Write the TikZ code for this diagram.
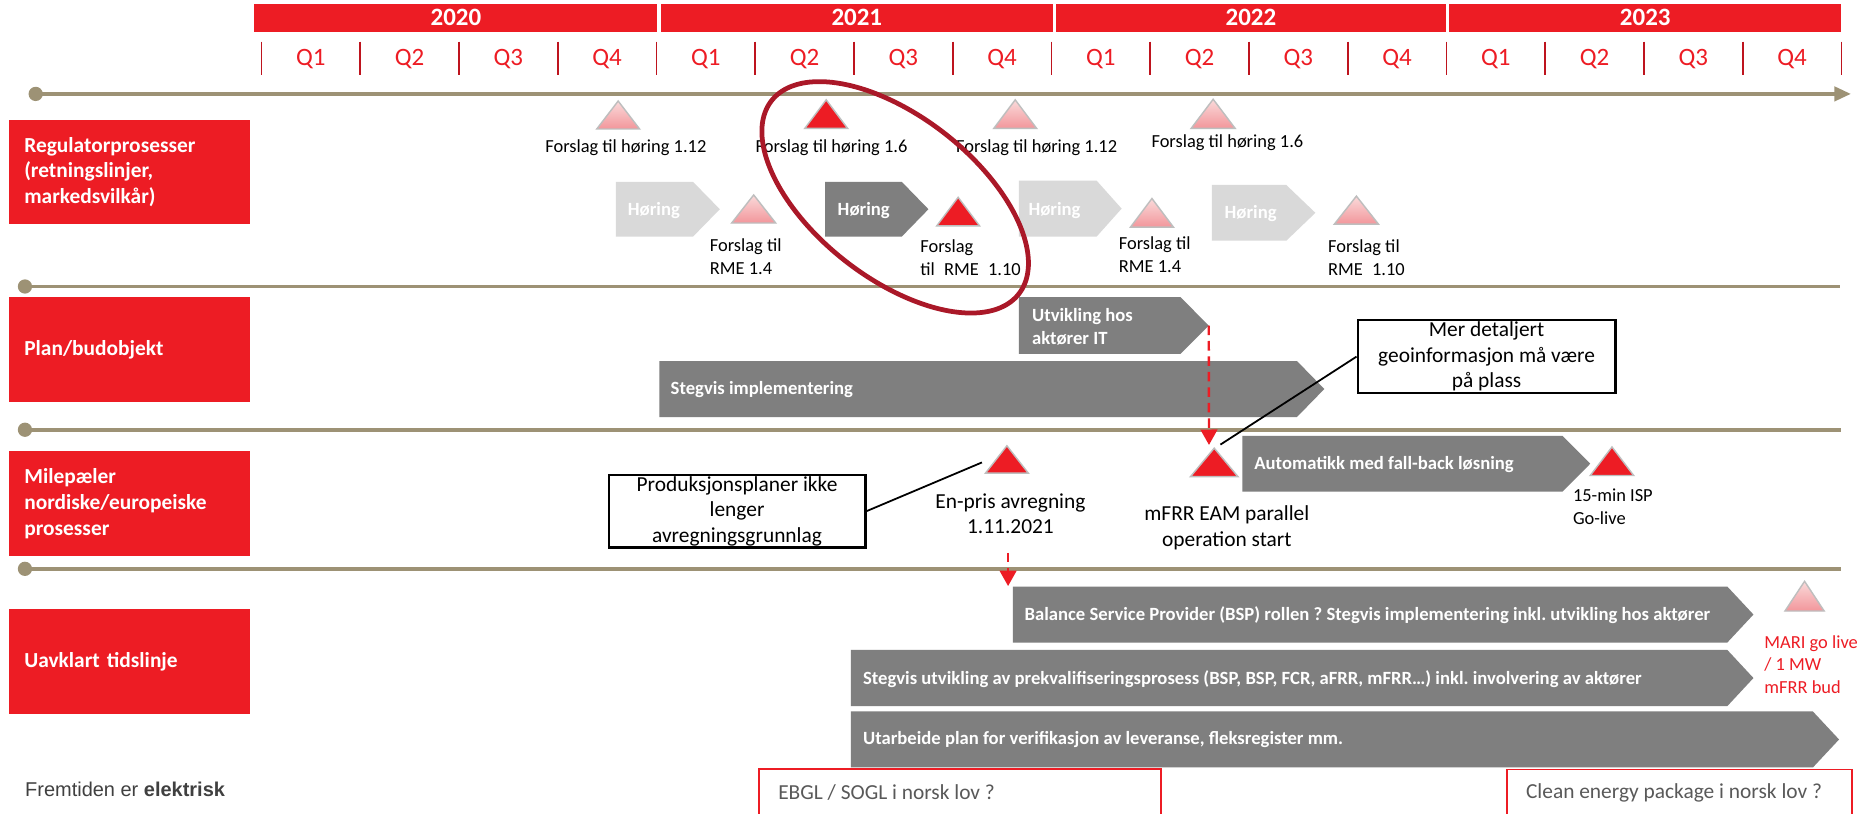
\documentclass[tikz,border=0pt]{standalone}
\usepackage{fontspec}
\setmainfont{Carlito}
\newfontfamily\arialf{Liberation Sans}
\usetikzlibrary{arrows.meta}
\frenchspacing
\definecolor{redc}{RGB}{237,28,36}
\definecolor{elc}{RGB}{170,24,40}
\definecolor{gdark}{RGB}{127,127,127}
\definecolor{glight}{RGB}{217,217,217}
\definecolor{olive}{RGB}{157,146,117}
\definecolor{tickc}{RGB}{190,20,30}
\definecolor{txtgray}{RGB}{89,89,89}
\definecolor{pinktop}{RGB}{250,218,218}
\definecolor{pinkbot}{RGB}{242,150,155}
\definecolor{trigray}{RGB}{190,190,190}
\definecolor{fegray}{RGB}{64,64,64}

% triangle: name, cx, top y, width, height, style
\newcommand\mytri[6]{%
  \path[#6] (#2,#3) -- ({#2+#4/2},{#3+#5}) -- ({#2-#4/2},{#3+#5}) -- cycle;
  \coordinate (#1) at (#2,#3);}
% chevron: name, left x, top y, body right x, tip x, bottom y, fill
\newcommand\mychev[7]{%
  \path[fill=#7] (#2,#3) -- (#4,#3) -- (#5,{(#3+#6)/2}) -- (#4,#6) -- (#2,#6) -- cycle;
  \coordinate (#1) at (#5,{(#3+#6)/2});}

\begin{document}
\begin{tikzpicture}[x=1pt,y=-1pt,
  yearcell/.style={fill=redc, text=white, font=\fontsize{21}{25}\selectfont\bfseries, minimum height=24pt, inner sep=0},
  qlab/.style={text=redc, font=\fontsize{21}{25}\selectfont, inner sep=0},
  qtick/.style={draw=tickc, line width=1.5pt},
  tline/.style={draw=olive, line width=3pt},
  lbox/.style={fill=redc, text=white, anchor=north west, minimum width=203.5pt, text width=177pt, inner xsep=13pt, inner ysep=0pt, align=left, font=\fontsize{18}{21.7}\selectfont\bfseries},
  lbl/.style={font=\fontsize{15.5}{19.5}\selectfont, inner sep=0, align=left},
  bigl/.style={font=\fontsize{18}{21.5}\selectfont, inner sep=0, align=center},
  chtxt/.style={text=white, font=\fontsize{15.7}{19.5}\selectfont\bfseries, inner sep=0, anchor=west, align=left},
  redtri/.style={fill=redc, draw=trigray, line width=1.2pt},
  pinktri/.style={top color=pinktop, bottom color=pinkbot, draw=trigray, line width=1.2pt},
  cbox/.style={draw=black, line width=1.8pt, fill=white, align=center, font=\fontsize{18}{21.5}\selectfont, inner sep=0},
  lnk/.style={draw=black, line width=1.5pt},
  rdash/.style={draw=redc, line width=2pt, dash pattern=on 8pt off 5pt, -{Triangle[length=13pt,width=14pt]}},
  lawbox/.style={draw=redc, line width=1.5pt, fill=white},
  lawtxt/.style={text=txtgray, font=\fontsize{18}{21.5}\selectfont, inner sep=0, anchor=west}
]
\clip (0,0) rectangle (1568,684);
\fill[white] (0,0) rectangle (1568,684);

% ---- header ----
\node[yearcell, minimum width=339pt] (y2020) at (383.5,15) {2020};
\node[yearcell, minimum width=329.5pt] (y2021) at (720.75,15) {2021};
\node[yearcell, minimum width=327.5pt] (y2022) at (1052.25,15) {2022};
\node[yearcell, minimum width=330pt] (y2023) at (1384,15) {2023};
\foreach \k in {0,...,16}{\draw[qtick] ({220+83.06*\k},35) -- ({220+83.06*\k},63);}
\foreach \k in {0,...,15}{\pgfmathtruncatemacro\qq{mod(\k,4)+1}
  \node[qlab] (q\k) at ({261.5+83.06*\k},50) {Q\qq};}

% ---- timeline lines ----
\coordinate (a0) at (30,79);   \coordinate (a1) at (1557,79);
\coordinate (b0) at (21,241);  \coordinate (b1) at (1548,241);
\coordinate (c0) at (21,361.5);\coordinate (c1) at (1549,361.5);
\coordinate (d0) at (21,478.5);\coordinate (d1) at (1549,478.5);
\draw[tline, -{Triangle[length=14pt,width=12pt]}] (a0) -- (a1);
\draw[tline] (b0) -- (b1);
\draw[tline] (c0) -- (c1);
\draw[tline] (d0) -- (d1);
\foreach \p in {a0,b0,c0,d0}{\fill[olive] (\p) circle[radius=6];}

% ---- left category boxes ----
\node[lbox, minimum height=87pt] (reg) at (7,101) {Regulatorprosesser\\(retningslinjer,\\markedsvilkår)};
\node[lbox, minimum height=88pt] (plan) at (7,250) {Plan/budobjekt};
\node[lbox, minimum height=88.6pt] (mile) at (7,379) {Milepæler\\nordiske/europeiske\\prosesser};
\node[lbox, minimum height=88.5pt] (uav) at (7,512) {Uavklart tidslinje};

% ---- row 1: regulator processes ----
\mytri{t1}{520}{85}{36}{23.5}{pinktri}
\mytri{t2}{695}{84}{36}{24}{redtri}
\mytri{t3}{854}{84}{36}{24}{pinktri}
\mytri{t4}{1020.5}{83.5}{37}{24.5}{pinktri}
\node[lbl] (ft1) at (526.5,124) {Forslag til høring 1.12};
\node[lbl] (ft2) at (699.5,124) {Forslag til høring 1.6};
\node[lbl] (ft3) at (872,124) {Forslag til høring 1.12};
\node[lbl] (ft4) at (1032.5,120) {Forslag til høring 1.6};

\mychev{c1tip}{518}{153}{583}{605.5}{199}{glight}
\node[chtxt] (h1) at (528,177) {Høring};
\mychev{c2tip}{694}{153}{758.6}{781}{199}{gdark}
\node[chtxt] (h2) at (704.5,177) {Høring};
\mychev{c3tip}{857}{152}{922.5}{943.5}{199}{glight}
\node[chtxt] (h3) at (865,177) {Høring};
\mychev{c4tip}{1019.5}{155.6}{1082}{1106.5}{202.5}{glight}
\node[chtxt] (h4) at (1030,180) {Høring};

\mytri{r1}{634}{164}{37}{23.6}{pinktri}
\mytri{r2}{806}{166}{36}{24}{redtri}
\mytri{r3}{969}{167}{36}{24}{pinktri}
\mytri{r4}{1141}{165}{37}{23.5}{pinktri}
\node[lbl, anchor=west] (rl1) at (597,215.7) {Forslag til\\RME 1.4};
\node[lbl, anchor=west] (rl2) at (774,216.5) {Forslag\\til\enspace RME\enspace 1.10};
\node[lbl, anchor=west] (rl3) at (941,214.5) {Forslag til\\RME 1.4};
\node[lbl, anchor=west] (rl4) at (1117,216.5) {Forslag til\\RME\enspace 1.10};

% highlight ellipse
\draw[elc, line width=4pt] plot[domain=0:356, samples=90, smooth cycle]
  ({753+132*cos(\x)*cos(38)-68*sin(\x)*sin(38)},{166+132*cos(\x)*sin(38)+68*sin(\x)*cos(38)});

% ---- row 2: plan/budobjekt ----
\mychev{utip}{857}{250}{993}{1016.8}{297.7}{gdark}
\node[chtxt] (ut) at (868,274.8) {Utvikling hos\\aktører IT};
\mychev{stip}{554.6}{303.7}{1091}{1114}{350.8}{gdark}
\node[chtxt] (st) at (564,328) {Stegvis implementering};
\node[cbox, minimum width=217pt, minimum height=61.6pt] (mbox) at (1250.5,300) {Mer detaljert\\geoinformasjon må være\\på plass};

% ---- row 3: milestones ----
\mychev{atip}{1045}{366.7}{1314.5}{1337.7}{413.5}{gdark}
\node[chtxt] (autt) at (1055,391) {Automatikk med fall-back løsning};
\mytri{ep}{847}{375}{36}{23}{redtri}
\mytri{mf}{1021.4}{377}{40}{24}{redtri}
\mytri{isp}{1356}{376}{36.5}{24}{redtri}
\node[bigl] (epl) at (850,432) {En-pris avregning\\1.11.2021};
\node[bigl] (mfl) at (1032,444.2) {mFRR EAM parallel\\operation start};
\node[lbl, anchor=west] (ispl) at (1323,426.5) {15-min ISP\\Go-live};
\node[cbox, minimum width=216pt, minimum height=61pt] (pbox) at (620,430) {Produksjonsplaner ikke\\lenger\\avregningsgrunnlag};

\coordinate (mfin) at (1017,374.3);
\coordinate (mflink) at (1026.6,374);
\coordinate (eplink) at (826,389);
\coordinate (epdash) at (848,465);
\coordinate (bspin) at (848,493);
\draw[rdash] (utip) -- (mfin);
\draw[lnk] (mflink) -- (mbox.west);
\draw[lnk] (pbox.east) -- (eplink);

% ---- row 4: uavklart ----
\mychev{btip}{852}{493.4}{1453}{1475}{540.5}{gdark}
\node[chtxt] (bt) at (861.7,517.8) {Balance Service Provider (BSP) rollen ? Stegvis implementering inkl. utvikling hos aktører};
\mychev{ptip}{715.7}{546.7}{1453}{1475}{594}{gdark}
\node[chtxt] (pvt) at (725.8,571) {Stegvis utvikling av prekvalifiseringsprosess (BSP, BSP, FCR, aFRR, mFRR…) inkl. involvering av aktører};
\mychev{vtip}{715.7}{598.5}{1525}{1547}{645.6}{gdark}
\node[chtxt] (vt) at (725.8,622) {Utarbeide plan for verifikasjon av leveranse, fleksregister mm.};
\draw[rdash] (epdash) -- (bspin);
\mytri{mari}{1518}{489}{33}{25}{pinktri}
\node[lbl, anchor=west, text=redc, font=\fontsize{15.5}{19}\selectfont] (maril) at (1484,559) {MARI go live\\/ 1 MW\\mFRR bud};

% ---- footer ----
\node[lawbox, anchor=north west, minimum width=338.5pt, minimum height=50pt] (ebgl) at (637.5,646) {};
\node[lawtxt] (ebglt) at (654.5,666.6) {EBGL / SOGL i norsk lov ?};
\node[lawbox, anchor=north west, minimum width=290pt, minimum height=50pt] (cep) at (1267,646.5) {};
\node[lawtxt] (cept) at (1283.5,666.6) {Clean energy package i norsk lov ?};
\node[anchor=west, inner sep=0, text=fegray, font=\arialf\fontsize{16.8}{20}\selectfont] (fe) at (21,664) {Fremtiden er \textbf{elektrisk}};
\end{tikzpicture}
\end{document}
